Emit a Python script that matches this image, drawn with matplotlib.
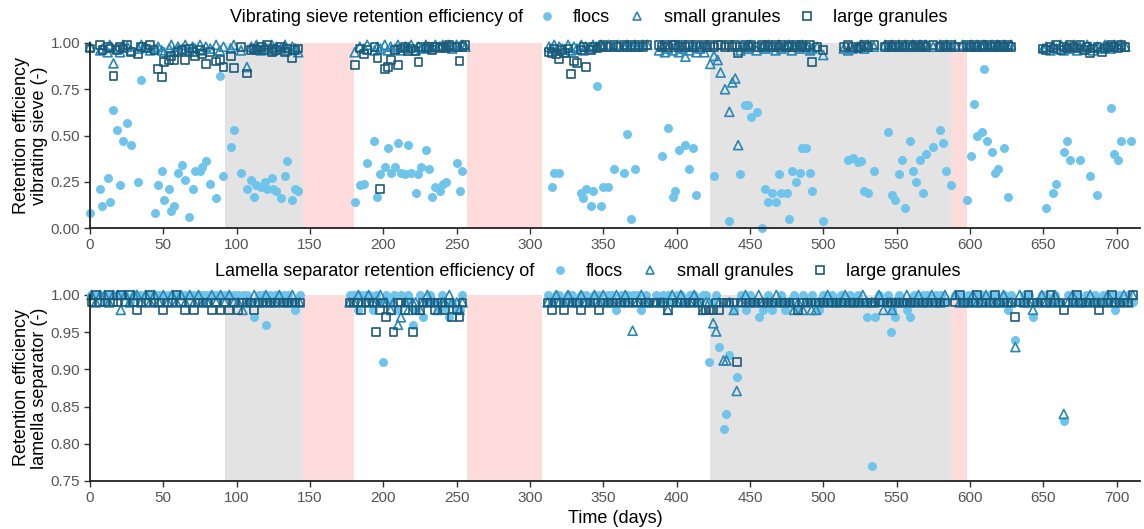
import numpy as np
import matplotlib
matplotlib.use("Agg")
import matplotlib.pyplot as plt
from matplotlib.lines import Line2D

nan = np.nan

# ---------------- data: vibrating sieve (top panel) ----------------
days_top = [
    0, 7, 8.5, 12, 13.5, 16, 18.5, 20.5, 22.5, 25.5, 28, 33, 35, 38, 41,
    44, 46.5, 49, 50.5, 54, 55.5, 57.5, 60, 63, 65, 67.5, 70, 71.5, 75, 76.5,
    79, 82, 86, 88.5, 91, 96, 98, 103, 107, 110, 112, 113.5, 116.5, 119, 120.5,
    124, 125, 127, 130.5, 133, 134.5, 138, 140, 142,
    180.5, 184, 187, 189, 194, 196, 198, 201, 203, 205, 208, 210, 212, 215, 217,
    219, 222, 224, 226, 229, 231, 233, 235.5, 238.5, 240.5, 243, 245, 247, 250, 252,
    254, 256,
    313, 315, 316.5, 318, 320, 322, 324, 326, 328, 330, 332, 335, 336.5, 338, 341.5,
    343, 345.5, 348.5, 350, 353.5, 357, 360, 364, 366, 369, 371.5, 374, 377, 380,
    388, 390, 392, 394, 397.5, 399, 401.5, 404, 406, 408.5, 411, 413.5, 416, 419, 421,
    423, 425.5, 428, 430, 433, 436, 438, 440, 442, 443.5, 446.5, 449, 450.5, 454.5, 458,
    460.5, 462.5, 465, 467.5, 469.5, 471.5, 475, 476.5, 478.5, 481.5, 484, 485.5, 488.5, 491, 492.5,
    496, 500,
    514, 517, 520, 523.5, 526, 528, 530.5, 534.5, 542, 544.5, 547, 549, 551.5, 554, 556,
    559, 561, 563, 566, 568, 570, 575, 579.5, 582, 584, 587, 590,
    595, 598, 601, 603, 605, 608, 609.5, 612, 615, 617, 619, 621, 623.5, 626, 628,
    650, 652, 655, 657, 659, 662, 664, 666, 668, 671, 673, 675, 678, 680, 682,
    684, 687, 690, 692, 694, 696, 698.5, 701, 703, 706, 710,
]
flocs_top = [
    .08, .21, .12, .27, .14, .64, .53, .23, .47, .57, .45, .25, .80, nan, nan,
    .08, .23, .31, .15, .21, .09, .12, .30, .34, .26, .06, .21, .31, .31, .33,
    .36, .24, .16, .82, .28, .44, .53, .30, .21, .26, .17, .23, .22, .25, .21,
    .27, .21, .20, .16, .28, .36, .15, .21, .20,
    .14, .23, .24, .35, .47, .17, .29, .33, .43, .30, .33, .46, .30, .29, .45,
    .30, .19, .29, .33, .42, .32, .17, .22, .20, .24, .25, nan, nan, .35, .20,
    .31, nan,
    nan, .22, .30, nan, .30, nan, nan, nan, nan, nan, nan, .19, .16, .21, .12,
    .20, .77, .12, .22, .22, .32, nan, .30, .51, .05, .32, nan, nan, nan,
    nan, .39, nan, .54, .17, .20, .42, nan, .45, .32, .43, .18, nan, nan, nan,
    nan, .28, nan, nan, nan, .04, nan, nan, nan, .29, .665, .665, .60, .625, .00,
    .21, .14, .19, .14, .29, .19, .19, .05, .31, .25, .30, .43, .43, .30, .20,
    nan, .04,
    nan, .37, .38, .355, .363, .20, .19, .31, nan, .52, .18, .15, .29, .37, .11,
    .47, .31, .25, .37, .19, .40, .44, .53, .46, .31, .23, nan,
    nan, .15, .39, .67, .50, .52, .86, .47, .41, .30, .32, nan, .43, .17, nan,
    nan, .11, nan, .19, .24, nan, .41, .47, .37, nan, nan, .37, nan, nan, .28,
    nan, .18, nan, nan, nan, .65, .40, .37, .47, nan, .47,
]
small_top = [
    .98, .96, .97, .95, .99, .89, .97, .95, .99, .98, .96, .97, .99, .98, .96,
    .97, .98, .96, .95, .97, .99, .96, .98, .97, .99, .96, .98, .97, .99, .96,
    .98, .97, .99, .96, .98, .97, .99, .96, .87, .98, .97, .99, .96, .98, .97,
    .99, .96, .98, .97, .99, .96, .98, .97, .95,
    .95, .98, .97, .99, .96, .98, .97, .99, .96, .98, .97, .99, .96, .98, .97,
    .99, .96, .98, .97, .99, .98, .97, .99, .98, .99, .98, .99, .97, .99, .98,
    .99, .98,
    .98, .97, .99, .96, .98, .97, .95, .99, .96, .98, .97, .99, .96, .98, .97,
    .99, .98, .99, .98, .99, .98, .99, .98, .99, .98, .99, .98, .99, .99,
    .96, .98, .95, .97, .96, .98, .95, .97, .926, .96, .98, .95, .97, .95, .98,
    .887, .93, .908, .84, .75, .628, .787, .808, .448, .96, .98, .97, .99, .96, .98,
    .97, .99, .98, .96, .99, .97, .98, .99, .96, .98, .97, .99, .98, .96, .97,
    .98, .935,
    .97, .96, .97, .98, .99, .97, .99, .98, .99, .98, .99, .98, .99, .98, .99,
    .98, .99, .98, .99, .98, .99, .98, .99, .98, .99, .98, .99,
    .99, .98, .99, .98, .99, .98, .99, .98, .99, .98, .99, .98, .99, .98, .99,
    .97, .98, .96, .98, .97, .99, .96, .98, .97, .99, .96, .98, .97, .99, .98,
    .96, .98, .97, .99, .98, .97, .99, .98, .99, .98, nan,
]
large_top = [
    .97, .99, .96, .98, .97, .82, .96, .98, .97, .99, .95, .94, .98, .97, .99,
    .96, .86, .815, .895, .91, .93, .91, .95, .96, .91, .97, .95, .93, .96, .94,
    .885, .95, .90, .91, .87, .93, .865, .98, .835, .96, .97, .96, .98, .96, .99,
    .95, .97, .96, .98, .95, .97, .92, .96, .97,
    .88, .97, .94, .96, .98, .92, .21, .86, .87, .91, .96, .88, .97, .98, .956,
    .97, .956, .895, .98, .97, .98, .96, .98, .974, .98, .97, .99, .98, .98, .905,
    .98, .99,
    .95, .948, .97, .94, .913, .96, .944, .97, .832, .905, .89, .96, .98, .872, .96,
    .98, .97, .98, .99, .98, .99, .98, .99, .98, .99, .98, .99, .98, .99,
    .99, .98, .99, .98, .99, .99, .98, .99, .98, .99, .98, .99, .98, .99, .98,
    .99, .98, .99, .99, .98, .99, .98, .99, .944, .98, .99, .98, .99, .98, .99,
    .98, .99, .98, .99, .98, .99, .98, .99, .98, .99, .98, .99, .98, .99, .896,
    .98, .962,
    .98, .99, .98, .97, .98, .99, .98, .99, .98, .99, .98, .99, .98, .99, .98,
    .99, .98, .99, .98, .99, .98, .99, .98, .99, .98, .99, .98,
    .98, .99, .98, .99, .98, .99, .98, .99, .98, .99, .98, .99, .98, .99, .98,
    .97, .96, .98, .97, .99, .96, .98, .97, .99, .98, .97, .99, .96, .98, .944,
    .97, .98, .953, .97, .98, .99, .98, .97, .99, .98, nan,
]

# ---------------- data: lamella separator (bottom panel) ----------------
days_bot = [
    1, 4, 7, 10, 13, 16, 19, 21, 24, 27, 30, 32, 35, 38, 41,
    44, 47, 50, 53, 56, 59, 62, 65, 68, 71, 74, 77, 80, 83, 86,
    89, 92, 95, 98, 101, 104, 107, 110, 112, 115, 118, 120, 123, 126, 129,
    132, 135, 138, 140, 143,
    177, 180, 183, 185, 188, 190, 193, 195, 198, 200, 202, 205, 207, 210, 212,
    215, 217, 220, 222, 225, 227, 230, 232, 235, 237, 240, 242, 245, 247, 250,
    252, 254,
    312, 315, 318, 320, 323, 326, 329, 332, 335, 338, 341, 344, 347, 350, 353,
    356, 359, 362, 365, 367, 370, 373, 376, 379, 381,
    386, 389, 391, 394, 397, 400, 403, 406, 409, 412, 415, 418, 420, 422, 425,
    427, 429, 432, 434, 436, 439, 441, 444, 447, 450, 453, 456, 459, 462, 465,
    468, 471, 474, 477, 480, 483, 486, 489, 492, 495, 497, 500, 503, 506, 509,
    512, 515, 518, 521, 524, 527, 530,
    533, 535, 538, 541, 544, 546, 547, 549, 552, 555, 557, 559, 562, 565, 568,
    571, 574, 577, 580, 583,
    590, 593, 596, 599, 602, 605, 608, 611, 614, 617, 620, 623, 626, 628, 631,
    634, 637, 640, 643, 646, 649, 652, 655, 658, 661, 664, 667, 670, 673, 676,
    679, 682, 685, 688, 691, 694, 697, 699, 702, 705, 708, 711,
]
flocs_bot = [
    1, 1, 1, .99, 1, 1, 1, 1, 1, .99, 1, 1, 1, 1, 1,
    1, 1, 1, 1, 1, 1, 1, 1, 1, 1, 1, 1, 1, 1, 1,
    1, 1, 1, 1, 1, 1, 1, .99, .97, 1, 1, .96, 1, 1, 1,
    1, 1, .99, .98, 1,
    1, 1, .98, 1, 1, 1, .98, 1, .99, .91, 1, .99, 1, .98, 1,
    .99, 1, .96, .98, 1, .97, .99, 1, .99, .98, 1, .98, .97, .99, .98,
    .98, 1,
    1, .99, 1, 1, .99, 1, 1, .99, 1, 1, .99, 1, 1, .99, 1,
    1, .98, 1, .99, 1, 1, 1, .98, 1, .99,
    1, .99, 1, 1, .99, 1, 1, .99, 1, 1, .99, 1, 1, .91, .99,
    1, .93, .82, .84, .92, .98, .89, 1, .98, 1, .99, .97, .98, 1, .98,
    .99, 1, .98, .99, 1, .98, 1, .99, 1, .99, .98, 1, .99, 1, .99,
    1, .99, 1, .99, 1, .99, .97,
    .77, .97, 1, .99, 1, .95, .98, .97, 1, .99, .98, .97, 1, .99, 1,
    1, .99, 1, 1, .99,
    1, 1, .99, 1, .99, 1, 1, .99, 1, 1, .99, 1, .98, 1, .94,
    .99, 1, 1, .97, .99, 1, 1, .99, 1, .99, .83, 1, .99, 1, .99,
    1, .99, 1, .99, 1, .99, 1, .98, 1, .99, 1, .99,
]
small_bot = [
    1, .99, 1, 1, .99, 1, 1, .98, 1, .99, 1, 1, .99, 1, .99,
    1, .99, 1, .99, 1, .99, 1, .99, 1, .99, 1, .99, .99, 1, .99,
    1, .99, 1, .99, .99, .98, .99, .99, 1, .99, .99, 1, .99, .99, 1,
    .99, .99, 1, .99, .99,
    .99, .99, 1, .99, .99, 1, .99, .99, 1, .99, .99, .98, .99, .96, .97,
    .99, .98, .99, .99, .98, .99, 1, .99, .99, .98, .99, .99, 1, .99, .99,
    .98, .99,
    .99, .99, 1, .99, .99, 1, .99, .99, 1, .99, .99, 1, .99, 1, .99,
    .99, 1, .99, 1, .99, .952, .99, 1, .99, .99,
    .99, .99, .99, .98, 1, .99, 1, .99, .99, 1, .99, .98, .99, .99, .962,
    .951, .99, .912, .912, .99, .98, .871, .99, 1, .99, .99, 1, .99, .99, .99,
    1, .99, .99, .99, .98, .99, .98, .99, .98, .98, .99, .99, 1, .99, .99,
    .99, 1, .99, .99, .99, 1, .99,
    .99, .99, 1, .98, .99, .99, .98, .99, .99, .99, 1, .99, .99, 1, .99,
    .99, 1, .99, .99, 1,
    1, .99, .99, .99, 1, .99, .99, 1, .99, .99, .99, 1, .99, .99, .93,
    1, .99, .99, .98, .99, 1, .99, .99, 1, .99, .84, .99, 1, .99, .99,
    .99, 1, .99, .99, .99, 1, .99, .99, .99, 1, .99, 1,
]
large_bot = [
    .99, 1, .99, .99, 1, .99, .99, 1, .99, 1, .99, .98, .99, .99, 1,
    .99, .99, .98, .99, .99, 1, .99, .98, .99, .98, .99, .99, .99, .98, .99,
    .98, .99, .98, .99, .98, .99, .99, .99, .98, .99, .99, .99, .99, .99, .99,
    .99, .99, .99, .99, .99,
    .99, .99, .99, .98, .99, .99, .99, .95, .98, .99, .97, .98, .95, .99, .99,
    .98, .99, .95, .98, .98, .99, .99, .99, .98, .99, .99, .98, .99, .97, .98,
    .97, .99,
    .99, .98, .99, .99, .98, .99, .99, .99, .98, .99, .99, .99, .98, .99, .99,
    .99, .99, .99, .99, .99, .99, .99, .99, .99, .99,
    .99, .99, .99, .98, .99, .99, .99, .99, .99, .99, .99, .98, .98, .98, .98,
    .99, .98, .99, .99, .99, .99, .91, .99, .99, .99, .99, .99, .99, .99, .99,
    .99, .99, .99, .99, .99, .98, .99, .99, .99, .99, .99, .99, .99, .99, .99,
    .99, .99, .99, .99, .99, .99, .99,
    .99, .99, .99, .99, .99, .99, .99, .99, .99, .99, .99, .99, .99, .99, .99,
    .99, .99, .99, .99, .99,
    .99, 1, .99, .99, .99, 1, .99, .99, .99, 1, .99, .99, .99, .99, .97,
    .99, .99, 1, .99, .99, .99, .99, 1, .99, .99, .98, .99, .99, 1, .99,
    .99, .99, .99, .98, .99, .99, 1, .99, .99, .99, .99, 1,
]

# shaded periods (start, end)
grey_periods = [(92, 145), (423, 587)]
pink_periods = [(145, 180), (257, 308), (587, 598)]

series_labels = ["flocs", "small granules", "large granules"]
panel_titles = ["Vibrating sieve retention efficiency of",
                "Lamella separator retention efficiency of"]
ylabels = ["Retention efficiency\nvibrating sieve (-)",
           "Retention efficiency\nlamella separator (-)"]
xticks = list(range(0, 701, 50))
yticks_top = [0.00, 0.25, 0.50, 0.75, 1.00]
yticks_bot = [0.75, 0.80, 0.85, 0.90, 0.95, 1.00]

# ---------------- style ----------------
plt.rcParams['font.family'] = ['Liberation Sans', 'DejaVu Sans']
C_FLOC = '#6EC4EB'
C_SMALL = '#2A87B5'
C_LARGE = '#1C5A78'
C_GREY = '#E3E3E3'
C_PINK = '#FFDCDC'
TICK_C = '#555555'

W, H = 1144, 529
fig = plt.figure(figsize=(W / 100, H / 100), dpi=100)

def frac_x(px):
    return px / W

def frac_y(px):
    return 1 - px / H

ax_top = fig.add_axes([frac_x(90), frac_y(228), frac_x(1140) - frac_x(90), frac_y(43) - frac_y(228)])
ax_bot = fig.add_axes([frac_x(90), frac_y(481), frac_x(1140) - frac_x(90), frac_y(295) - frac_y(481)])

panels = [
    (ax_top, days_top, flocs_top, small_top, large_top, (0, 1), yticks_top),
    (ax_bot, days_bot, flocs_bot, small_bot, large_bot, (0.75, 1), yticks_bot),
]
legend_pos = [(230, 538, 18), (215, 551, 272)]  # title x, legend x, row y (pixels)

for i, (ax, d, fl, sm, lg, ylim, yt) in enumerate(panels):
    for a, b in grey_periods:
        ax.axvspan(a, b, color=C_GREY, lw=0, zorder=0)
    for a, b in pink_periods:
        ax.axvspan(a, b, color=C_PINK, lw=0, zorder=0)
    ax.scatter(d, fl, s=42, color=C_FLOC, lw=0, zorder=3, clip_on=False)
    ax.scatter(d, sm, s=42, marker='^', facecolors='none', edgecolors=C_SMALL,
               linewidths=1.2, zorder=4, clip_on=False)
    ax.scatter(d, lg, s=32, marker='s', facecolors='none', edgecolors=C_LARGE,
               linewidths=1.2, zorder=5, clip_on=False)
    ax.set_xlim(0, 716)
    ax.set_ylim(*ylim)
    ax.set_xticks(xticks)
    ax.set_yticks(yt)
    ax.set_yticklabels([f"{v:.2f}" for v in yt])
    for s in ['top', 'right']:
        ax.spines[s].set_visible(False)
    for s in ['left', 'bottom']:
        ax.spines[s].set_linewidth(1.3)
        ax.spines[s].set_color('#222222')
        ax.spines[s].set_zorder(6)
    ax.tick_params(axis='both', length=4, width=1, color='#333333',
                   labelsize=11, labelcolor=TICK_C, pad=3)
    ax.set_ylabel(ylabels[i], fontsize=13, labelpad=2, linespacing=1.1)

    # legend row
    tx, lx, yc = legend_pos[i]
    fig.text(frac_x(tx), frac_y(yc), panel_titles[i],
             fontsize=13, va='center', ha='left')
    handles = [
        Line2D([], [], ls='none', marker='o', ms=6.3, mfc=C_FLOC, mec='none'),
        Line2D([], [], ls='none', marker='^', ms=6.3, mfc='none', mec=C_SMALL, mew=1.2),
        Line2D([], [], ls='none', marker='s', ms=5.5, mfc='none', mec=C_LARGE, mew=1.2),
    ]
    fig.legend(handles, series_labels, ncol=3, loc='center left',
               bbox_to_anchor=(frac_x(lx), frac_y(yc)), frameon=False,
               fontsize=13, handlelength=1.0, handletextpad=0.95,
               columnspacing=1.0, borderpad=0, borderaxespad=0)

ax_bot.set_xlabel("Time (days)", fontsize=13, labelpad=4)

fig.savefig("out.png", dpi=100)
